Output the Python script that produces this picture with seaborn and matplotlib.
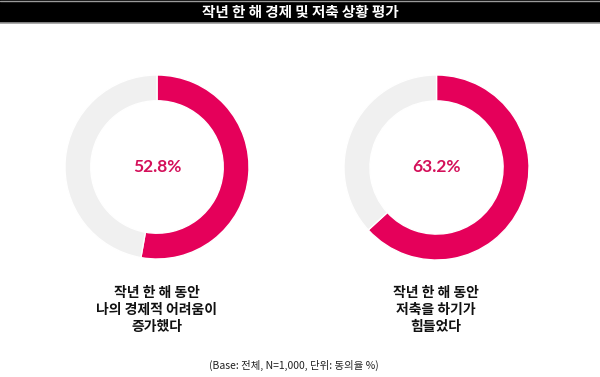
import seaborn as sns
import matplotlib.pyplot as plt
from matplotlib.patches import Rectangle

# Data
title = "작년 한 해 경제 및 저축 상황 평가"
agree = [52.8, 63.2]
labels = [["작년 한 해 동안", "나의 경제적 어려움이", "증가했다"],
          ["작년 한 해 동안", "저축을 하기가", "힘들었다"]]
footnote = "(Base: 전체, N=1,000, 단위: 동의율 %)"

pink = "#E5005A"
pink_text = "#D4105A"
gray = "#F0F0F0"

sns.set_theme(style="white")
plt.rcParams['font.family'] = ['Noto Sans CJK KR', 'DejaVu Sans']

W, H = 600, 377
fig = plt.figure(figsize=(6, 3.77), dpi=100)
fig.patch.set_facecolor("white")

# title bar
bg = fig.add_axes([0, 0, 1, 1])
bg.set_xlim(0, W)
bg.set_ylim(H, 0)
bg.axis("off")
bg.add_patch(Rectangle((0, 0), W, 23, facecolor="black", edgecolor="none"))
bg.plot([0, W], [23, 23], color="#9a9a9a", lw=1.2)
bg.plot([0, W], [0.5, 0.5], color="#9a9a9a", lw=1)
bg.text(W / 2, 12, title, color="white", fontsize=10.5, fontweight="bold",
        ha="center", va="center")

# donuts: (center x, center y, radius) in pixels
centers = [(157, 167, 92), (436.5, 167.5, 92.5)]
label_x = [157, 436]
line_y = [293, 310, 327]

for i, (cx, cy, r) in enumerate(centers):
    ax = fig.add_axes([(cx - r) / W, (H - cy - r) / H, 2 * r / W, 2 * r / H])
    ax.pie([agree[i], 100 - agree[i]], colors=[pink, gray], startangle=90,
           counterclock=False, radius=1,
           wedgeprops=dict(width=0.28, edgecolor="white", linewidth=1))
    ax.set_xlim(-1, 1)
    ax.set_ylim(-1, 1)
    ax.text(0, 0, f"{agree[i]:.1f}%", color=pink_text, fontsize=12.5,
            fontweight="bold", family="Lato", ha="center", va="center")
    for txt, y in zip(labels[i], line_y):
        bg.text(label_x[i], y, txt, fontsize=10, fontweight="bold",
                ha="center", va="center", color="#111111")

bg.text(294, 365, footnote, fontsize=7.5, ha="center", va="center",
        color="#222222")

plt.savefig("out.png", dpi=100)
plt.close()
